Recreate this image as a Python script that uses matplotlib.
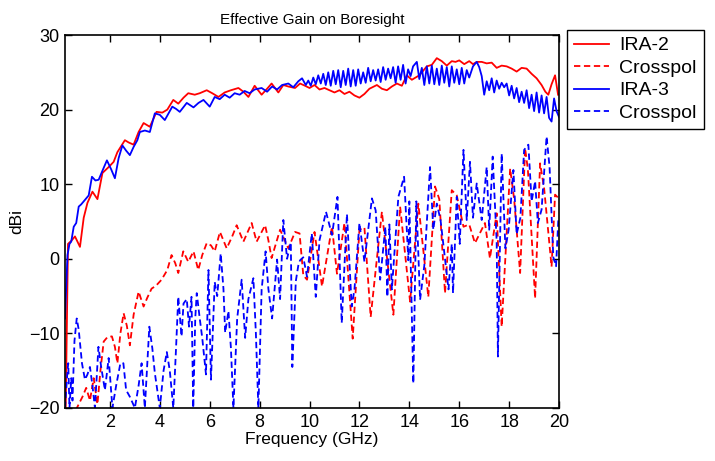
import numpy as np
import matplotlib
matplotlib.use("Agg")
from matplotlib import pyplot as plt

plt.rcParams['font.family'] = ['Liberation Sans', 'DejaVu Sans']

# IRA-2 co-pol gain (dBi)
ira2_f = [0.22, 0.32, 0.45, 0.6, 0.8, 0.95, 1.1, 1.3, 1.5, 1.7, 1.95, 2.15, 2.3, 2.6, 2.75,
          2.95, 3.15, 3.35, 3.6, 3.87, 4.1, 4.3, 4.54, 4.74, 4.95, 5.14, 5.4, 5.6, 5.88, 6.1,
          6.35, 6.6, 6.85, 7.15, 7.35, 7.55, 7.8, 8.08, 8.3, 8.48, 8.75, 8.95, 9.15, 9.42, 9.62,
          9.82, 10.0, 10.2, 10.4, 10.6, 10.8, 11.0, 11.2, 11.4, 11.6, 11.8, 12.0, 12.2, 12.4, 12.7,
          12.9, 13.1, 13.3, 13.5, 13.7, 13.9, 14.1, 14.4, 14.7, 14.9, 15.1, 15.3, 15.5, 15.7, 15.85,
          16.0, 16.2, 16.4, 16.55, 16.7, 16.9, 17.1, 17.3, 17.5, 17.7, 17.9, 18.1, 18.3, 18.5, 18.7,
          18.9, 19.1, 19.3, 19.45, 19.57, 19.7, 19.84, 19.96]
ira2_g = [-22, 2.0, 2.4, 3.0, 1.6, 5.5, 7.5, 9.0, 8.0, 11.5, 12.3, 13.0, 14.3, 15.9, 15.6,
          15.3, 17.0, 18.2, 17.7, 19.7, 19.6, 20.0, 21.3, 20.8, 21.6, 22.2, 22.0, 22.2, 22.6, 22.2,
          21.7, 22.3, 22.6, 22.9, 22.4, 21.7, 23.2, 22.0, 22.8, 23.5, 22.3, 23.3, 23.1, 22.9, 23.5,
          23.2, 22.9, 23.3, 22.7, 22.9, 22.6, 22.3, 22.6, 22.1, 22.4, 21.9, 21.6, 22.1, 22.8, 23.3,
          22.8, 22.6, 23.1, 23.5, 23.2, 24.6, 24.0, 24.6, 25.8, 26.0, 26.9, 26.5, 25.9, 26.5, 26.4,
          26.6, 26.1, 26.5, 26.1, 26.4, 26.4, 26.2, 26.3, 25.6, 25.9, 25.8, 25.5, 25.1, 25.6, 25.5,
          24.8, 24.2, 23.3, 22.4, 22.0, 23.4, 24.6, 22.0]

# IRA-2 cross-pol (dBi)
ira2x_f = [0.3, 0.6, 0.9, 1.05, 1.2, 1.35, 1.5, 1.62, 1.75, 1.9, 2.08, 2.2, 2.3, 2.42, 2.55,
           2.68, 2.8, 2.95, 3.15, 3.35, 3.5, 3.67, 3.85, 4.07, 4.3, 4.47, 4.62, 4.74, 4.94, 5.14,
           5.35, 5.54, 5.7, 5.88, 6.05, 6.2, 6.41, 6.68, 6.9, 7.08, 7.35, 7.68, 7.88, 8.22, 8.35,
           8.48, 8.82, 9.15, 9.42, 9.6, 9.75, 9.9, 10.2, 10.5, 10.9, 11.1, 11.4, 11.73, 12.0, 12.2,
           12.45, 12.9, 13.36, 13.63, 14.03, 14.36, 14.76, 15.03, 15.2, 15.43, 15.7, 15.9, 16.17, 16.4, 16.63,
           17.03, 17.23, 17.5, 17.7, 18.04, 18.2, 18.44, 18.64, 18.75, 19.04, 19.24, 19.4, 19.7, 19.84, 19.96]
ira2x_g = [-21, -20.5, -18.5, -17.3, -19, -16.0, -19.5, -15.0, -11.1, -10.5, -10.4, -11.8, -14.0, -10, -7.3,
           -9, -11.6, -7.5, -4.4, -6.4, -5.2, -4.0, -3.6, -2.8, -1.5, 0.5, -0.6, -1.9, 1.0, -0.4,
           1.0, -1.5, 0.5, 2.1, 1.8, 1.0, 3.6, 1.4, 3.0, 4.5, 2.3, 4.8, 2.3, 4.5, 2.5,
           0.1, 3.9, 1.4, 3.6, 3.4, -2.2, -2.8, 3.6, -3.7, 4.3, -2.0, 4.8, -10.7, 3.9, 4.2,
           -7.8, 6.3, -7.5, 7.0, -5.75, 7.4, -5.1, 9.7, 8.0, -4.6, 9.2, 8.5, 4.3, 4.6, 2.1,
           4.8, 0.07, 6.1, -9.1, 12.1, 8.0, -1.9, 14.8, 12.0, -5.3, 12.8, 9.5, -1.05, 8.6, 8.2]

# IRA-3 co-pol gain (dBi)
ira3_f = [0.2, 0.3, 0.38, 0.45, 0.55, 0.65, 0.75, 0.85, 1.0, 1.15, 1.28, 1.42, 1.55, 1.7, 1.88,
          2.05, 2.2, 2.35, 2.5, 2.65, 2.8, 2.95, 3.1, 3.2, 3.4, 3.6, 3.8, 4.0, 4.2, 4.5,
          4.65, 4.8, 5.08, 5.35, 5.55, 5.75, 6.0, 6.2, 6.4, 6.6, 6.8, 7.0, 7.2, 7.4, 7.6,
          7.8, 8.08, 8.3, 8.5, 8.7, 8.9, 9.15, 9.35, 9.55, 9.7, 9.85,
          9.95, 10.05, 10.15, 10.25, 10.35, 10.45, 10.55, 10.65, 10.75, 10.85, 10.95, 11.05, 11.15, 11.25, 11.35,
          11.45, 11.55, 11.65, 11.75, 11.85, 11.95, 12.05, 12.15, 12.25, 12.35, 12.45, 12.55, 12.65, 12.75, 12.85,
          12.95, 13.05, 13.15, 13.25, 13.35, 13.45, 13.55, 13.65, 13.75, 13.85, 13.95, 14.05, 14.15, 14.3, 14.4,
          14.5, 14.6, 14.7, 14.8, 14.9, 15.0, 15.1, 15.2, 15.3, 15.4, 15.5, 15.6, 15.7, 15.8, 15.9,
          16.0, 16.1, 16.2, 16.3, 16.4, 16.55, 16.7, 16.8, 16.9, 17.0, 17.1, 17.2, 17.3, 17.4, 17.5,
          17.6, 17.7, 17.8, 17.9, 18.0, 18.1, 18.2, 18.3, 18.4, 18.5, 18.6, 18.7, 18.8, 18.9, 19.0,
          19.1, 19.2, 19.3, 19.4, 19.5, 19.6, 19.7, 19.8, 19.9, 20.0]
ira3_g = [-8, 0.5, 2.0, 2.3, 4.3, 4.8, 7.0, 7.3, 7.9, 8.5, 11.0, 10.5, 10.6, 11.8, 13.2,
          12.0, 10.8, 13.5, 15.2, 14.5, 13.9, 15.0, 15.9, 17.0, 17.2, 17.0, 19.5, 19.3, 18.6, 20.4,
          20.1, 19.7, 20.9, 20.3, 20.9, 21.3, 20.4, 21.7, 21.4, 22.0, 21.6, 22.2, 22.0, 22.5, 22.2,
          22.7, 22.9, 22.4, 23.1, 22.7, 23.3, 23.5, 23.0, 23.8, 24.2, 23.3,
          23.9, 23.2, 24.3, 23.4, 24.6, 23.5, 24.8, 23.3, 25.0, 23.2, 25.2, 23.4, 25.3, 23.0, 25.2,
          23.3, 25.5, 23.1, 25.3, 23.2, 25.4, 23.5, 25.0, 23.6, 25.6, 23.8, 25.3, 23.9, 25.4, 23.7,
          25.7, 24.0, 25.5, 24.2, 25.7, 23.6, 25.8, 24.0, 26.0, 23.5, 25.4, 24.5, 25.8, 26.4, 24.1,
          25.6, 23.3, 25.8, 23.5, 25.9, 23.4, 25.5, 23.3, 25.9, 23.6, 25.7, 23.1, 25.8, 23.6, 25.4,
          23.4, 25.6, 23.5, 25.3, 24.3, 25.8, 26.4, 25.7, 24.5, 22.0, 23.8, 22.6, 24.2, 22.3, 23.9,
          22.8, 23.6, 23.0, 23.5, 21.9, 23.2, 21.5, 22.9, 21.0, 22.4, 20.9, 22.6, 20.2, 22.0, 19.8,
          22.3, 19.6, 21.9, 19.5, 21.7, 18.9, 18.4, 21.5, 19.8, 19.0]

# IRA-3 cross-pol (dBi)
ira3x_f = [0.2, 0.3, 0.33, 0.38, 0.45, 0.5, 0.58, 0.67, 0.75, 0.88, 1.0, 1.1, 1.2, 1.3, 1.4,
           1.54, 1.65, 1.8, 1.95, 2.1, 2.25, 2.42, 2.54, 2.65, 2.8, 3.0, 3.15, 3.27, 3.4, 3.58,
           3.7, 3.8, 4.0, 4.15, 4.28, 4.4, 4.54, 4.65, 4.74, 4.87, 4.95, 5.08, 5.17, 5.27, 5.34,
           5.42, 5.48, 5.6, 5.7, 5.85, 5.95, 6.05, 6.2, 6.3, 6.44, 6.55, 6.62, 6.75, 6.85, 6.95,
           7.1, 7.28, 7.42, 7.55, 7.75, 7.85, 7.95, 8.08, 8.24, 8.35, 8.5, 8.7, 8.82, 8.95, 9.1,
           9.25, 9.31, 9.45, 9.55, 9.62, 9.75, 9.9, 10.09, 10.25, 10.4, 10.66, 10.9, 11.12, 11.29, 11.5,
           11.69, 11.8, 12.0, 12.2, 12.5, 12.65, 12.83, 13.04, 13.12, 13.2, 13.3, 13.56, 13.79, 13.96, 14.0,
           14.16, 14.28, 14.43, 14.6, 14.83, 14.96, 15.1, 15.25, 15.57, 15.7, 15.75, 15.9, 16.02, 16.17, 16.3,
           16.43, 16.55, 16.7, 16.9, 17.1, 17.2, 17.34, 17.5, 17.55, 17.7, 17.85, 17.98, 18.17, 18.3, 18.45,
           18.6, 18.77, 18.9, 19.04, 19.15, 19.3, 19.5, 19.62, 19.77, 19.88, 19.97]
ira3x_g = [-20, -15, -14, -20, -16, -19, -11, -8, -9.5, -14, -16.2, -15.5, -14.5, -17, -20,
           -11.8, -14.5, -17.6, -13.3, -20, -17.0, -14, -14, -17.6, -18.5, -20, -17, -14, -20, -9.1,
           -12, -15.3, -20, -15, -12.5, -15, -20, -12, -5.1, -10.4, -6, -5.4, -9.1, -5.1, -20,
           -8, -4.6, -8, -10.6, -15.5, -1.5, -16.2, -3.1, -5, 0.7, -4, -9.9, -7, -12, -20,
           -8.0, -2.8, -10.6, -5.4, -2.6, -10, -20, -4.1, 1.0, -4, -8.0, -0.1, -5.4, 5.2, 0,
           2.2, -14.5, -3, -0.9, -0.2, 0.2, -2.4, 3.4, -5.1, 2.5, 6.3, 3.2, 8.3, -8.6, 6.0,
           -6.4, -4.1, 4.8, -0.4, 8.1, 6.5, -2.8, 4.3, -5.1, 4.6, -4.1, 8.3, 11.0, -0.2, 7.7,
           -16.7, 7.7, -5.5, -0.9, 12.3, 3.9, 7.4, 5.2, -4.1, 2.0, -4.6, 8.3, 2.0, 14.6, 5.2,
           13.0, 5.5, 10.1, 5.2, 12.3, 3.9, 13.7, 2.3, -13.1, 14.1, 1.4, 3.9, 11.9, 3.3, 5.5,
           14.6, 15.3, 7.7, 10.4, 4.8, 6.6, 16.4, 12.3, 0.2, -1.0, 5.2]

fig = plt.figure(figsize=(7.15, 4.61), dpi=100)
ax = fig.add_axes([0.0909, 0.115, 0.691, 0.809])

dash = (0, (3.5, 2.0))
ax.plot(ira2_f, ira2_g, color='#ff0000', lw=1.3, label='IRA-2')
ax.plot(ira2x_f, ira2x_g, color='#ff0000', lw=1.3, linestyle=dash, label='Crosspol')
ax.plot(ira3_f, ira3_g, color='#0000ff', lw=1.3, label='IRA-3')
ax.plot(ira3x_f, ira3x_g, color='#0000ff', lw=1.3, linestyle=dash, label='Crosspol')

ax.set_xlim(0.2, 20)
ax.set_ylim(-20, 30)
ax.set_xticks(np.arange(2, 21, 2))
ax.set_yticks(np.arange(-20, 31, 10))
ax.tick_params(direction='in', top=True, right=True, labelsize=13, length=5, width=1, pad=4)
for s in ax.spines.values():
    s.set_linewidth(1.2)

ax.set_title('Effective Gain on Boresight', fontsize=11, pad=8)
ax.set_xlabel('Frequency (GHz)', fontsize=12.5, labelpad=1)
ax.set_ylabel('dBi', fontsize=12.5, labelpad=3)

leg = fig.legend(loc='upper left', bbox_to_anchor=(0.793, 0.935), borderaxespad=0,
                 fontsize=14, handlelength=1.8, handletextpad=0.55, borderpad=0.35,
                 labelspacing=0.25, fancybox=False, framealpha=1, edgecolor='black')
leg.get_frame().set_linewidth(1.0)

fig.savefig('out.png', dpi=100)
